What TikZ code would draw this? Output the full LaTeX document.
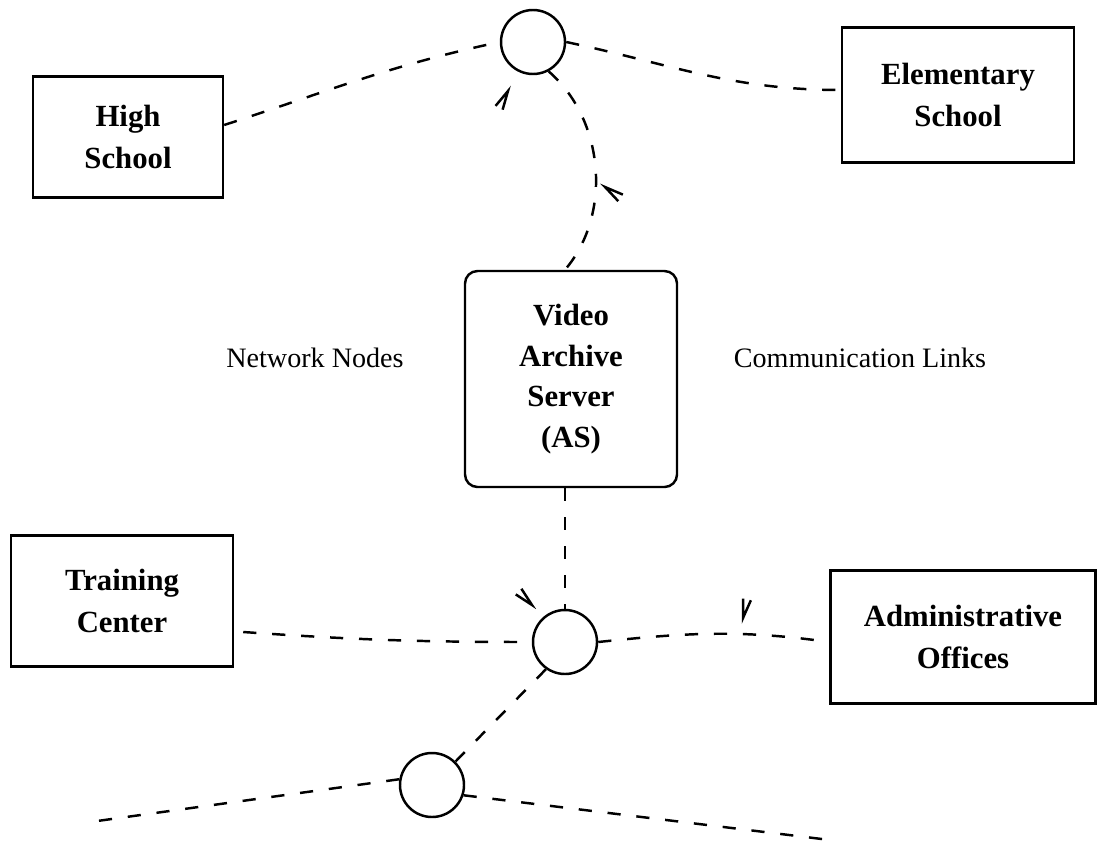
\documentclass[tikz,border=0pt]{standalone}
\usepackage{fontspec}
\setmainfont{Liberation Serif}
\usetikzlibrary{calc}

\begin{document}
\begin{tikzpicture}[
    site/.style={draw, line width=1.4pt, align=center, inner sep=0pt,
      font=\fontsize{17.5}{24}\selectfont\bfseries},
    hub/.style={draw, circle, line width=1.4pt, minimum size=1.28cm, inner sep=0pt},
    link/.style={line width=1.4pt, dash pattern=on 7.5pt off 9pt},
    pointer/.pic={\draw[line width=1.4pt] (-0.38,0.08) -- (0,0) -- (-0.38,-0.08);}
  ]
      \useasboundingbox (0,0) rectangle (21.94,-16.94);
      \begin{scope}
        \node[site, minimum width=3.8cm, minimum height=2.42cm] (high) at (2.56,-2.74) {High\\School};
        \node[site, minimum width=4.64cm, minimum height=2.7cm] (elem) at (19.16,-1.9) {Elementary\\School};
        \node[site, rounded corners=0.25cm, minimum width=4.24cm, minimum height=4.32cm,
          font=\fontsize{17.5}{23.2}\selectfont\bfseries] (archive) at (11.42,-7.58) {Video\\Archive\\Server\\(AS)};
        \node[site, minimum width=4.44cm, minimum height=2.62cm] (train) at (2.44,-12.02) {Training\\Center};
        \node[site, minimum width=5.3cm, minimum height=2.66cm] (admin) at (19.26,-12.74) {Administrative\\Offices};

        \node[hub] (hubtop) at (10.66,-0.84) {};
        \node[hub] (hubmid) at (11.3,-12.84) {};
        \node[hub] (hublow) at (8.64,-15.7) {};

        \node[font=\fontsize{16}{20}\selectfont] (nodes) at (6.3,-7.16) {Network Nodes};
        \node[font=\fontsize{16}{20}\selectfont] (links) at (17.2,-7.16) {Communication Links};

        \coordinate (westend) at (1.8,-16.44);
        \coordinate (eastend) at (16.6,-16.8);
      \end{scope}
      \begin{scope}
        \draw[link] ([yshift=0.24cm]high.east) to[out=18,in=192] (hubtop.west);
        \draw[link] (hubtop.east) to[out=-12,in=180] ([yshift=0.1cm]elem.west);
        \draw[link] (hubtop.-62) .. controls (12.1,-2.4) and (12.24,-4.3) .. (hubmid.north |- archive.north);
        \draw[link] (hubmid.north |- archive.south) -- (hubmid.north);
        \draw[link] ([shift={(0.18,-0.62)}]train.east) to[out=-4,in=180] (hubmid.west);
        \draw[link] (hubmid.east) to[out=6,in=172] ([yshift=-0.1cm]admin.west);
        \draw[link] (hubmid.-125) -- (hublow.45);
        \draw[link] (hublow.170) -- (westend);
        \draw[link] (hublow.-18) -- (eastend);
      \end{scope}
      \begin{scope}
        \pic[rotate=62] at (10.16,-1.82) {pointer};
        \pic[rotate=145] at (12.1,-3.74) {pointer};
        \pic[rotate=-45] at (10.64,-12.1) {pointer};
        \pic[rotate=-102] at (14.86,-12.36) {pointer};
      \end{scope}
    \end{tikzpicture}
\end{document}
